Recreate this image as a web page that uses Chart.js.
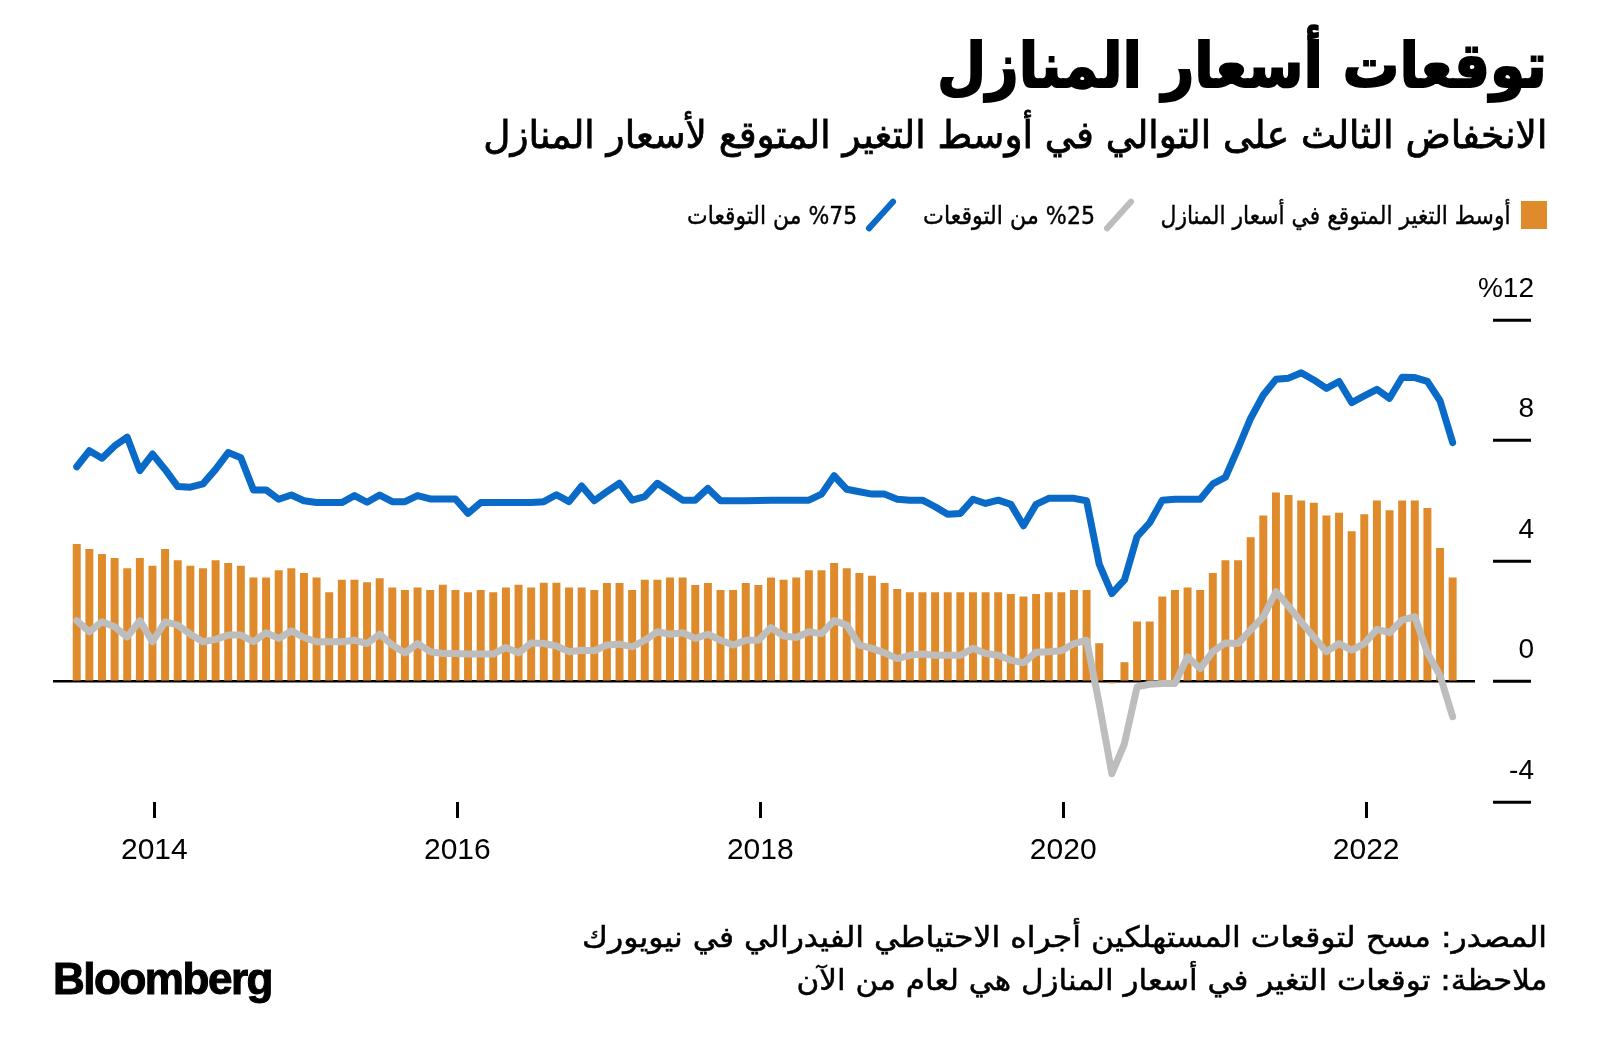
<!DOCTYPE html>
<html lang="ar">
<head>
<meta charset="utf-8">
<title>توقعات أسعار المنازل</title>
<script src="https://cdn.jsdelivr.net/npm/chart.js@4.4.0/dist/chart.umd.min.js"></script>
<style>
  html, body { margin:0; padding:0; background:#fff; }
  body { width:1600px; height:1060px; position:relative; overflow:hidden;
         font-family:"DejaVu Sans", "Noto Sans", sans-serif; color:#000; }
  #chart-wrap { position:absolute; left:0; top:0; width:1600px; height:1060px; }
  .txt { position:absolute; direction:rtl; white-space:nowrap; line-height:1;
         transform-origin:100% 50%; }
  #title { right:53px; top:35px; font-size:62px; font-weight:bold; -webkit-text-stroke:1.8px #000; }
  #subtitle { right:53px; top:116px; font-size:38px; -webkit-text-stroke:0.8px #000; }
  .leg { top:203px; font-size:25px; -webkit-text-stroke:0.4px #000; }
  #src1 { right:53px; top:923px; font-size:29px; -webkit-text-stroke:0.5px #000; }
  #src2 { right:53px; top:966px; font-size:29px; -webkit-text-stroke:0.5px #000; }
  .swatch { position:absolute; left:1521px; top:201px; width:26px; height:28px; background:#df8b2b; }
  .slash { position:absolute; width:6px; height:42px; border-radius:3px; transform:rotate(42deg); }
  #logo { position:absolute; left:53px; top:957px; font-family:"Liberation Sans", Arial, sans-serif;
          font-weight:bold; font-size:44px; letter-spacing:-1.5px; line-height:1;
          -webkit-text-stroke:1px #000; transform-origin:0 50%; white-space:nowrap; }
</style>
</head>
<body>
<div id="chart-wrap"><canvas id="house-chart" width="1600" height="1060"></canvas></div>

<div id="title" class="txt" data-w="610">توقعات أسعار المنازل</div>
<div id="subtitle" class="txt" data-w="1064">الانخفاض الثالث على التوالي في أوسط التغير المتوقع لأسعار المنازل</div>

<div class="swatch"></div>
<div class="txt leg" style="right:89px" data-w="350">أوسط التغير المتوقع في أسعار المنازل</div>
<div class="slash" style="left:1116px; top:194px; background:#bdbdbd"></div>
<div class="txt leg" style="right:505px" data-w="172">%25 من التوقعات</div>
<div class="slash" style="left:878px; top:194px; background:#0a6ac8"></div>
<div class="txt leg" style="right:743px" data-w="170">%75 من التوقعات</div>

<div id="src1" class="txt" data-w="965">المصدر: مسح لتوقعات المستهلكين أجراه الاحتياطي الفيدرالي في نيويورك</div>
<div id="src2" class="txt" data-w="751">ملاحظة: توقعات التغير في أسعار المنازل هي لعام من الآن</div>
<div id="logo" data-w="219">Bloomberg</div>

<script>
(function(){
  // first survey month: June 2013, monthly through July 2022
  const START_YEAR = 2013;
  const START_MONTH = 6;

  const yearLabels = [2014, 2016, 2018, 2020, 2022];
  const yTicks = [-4, 0, 4, 8, 12];

  // median expected home price change (bars)
  const medianChange = [
    4.55, 4.39, 4.22, 4.09, 3.75, 4.09, 3.83, 4.39, 4.01, 3.83,
    3.75, 4.01, 3.92, 3.83, 3.44, 3.44, 3.68, 3.75, 3.59, 3.44,
    2.95, 3.37, 3.37, 3.28, 3.42, 3.11, 3.03, 3.11, 3.03, 3.2,
    3.03, 2.95, 3.03, 2.95, 3.11, 3.2, 3.11, 3.27, 3.27, 3.11,
    3.11, 3.03, 3.26, 3.26, 3.03, 3.37, 3.37, 3.44, 3.44, 3.19,
    3.26, 3.03, 3.03, 3.26, 3.19, 3.44, 3.37, 3.44, 3.68, 3.68,
    3.92, 3.75, 3.59, 3.5, 3.26, 3.06, 2.95, 2.95, 2.95, 2.95,
    2.95, 2.95, 2.95, 2.95, 2.89, 2.81, 2.89, 2.95, 2.95, 3.03,
    3.03, 1.26, -0.05, 0.63, 1.98, 1.98, 2.81, 3.03, 3.11, 3.03,
    3.59, 4.01, 4.01, 4.78, 5.5, 6.26, 6.18, 6.0, 5.92, 5.5,
    5.59, 4.98, 5.54, 6.0, 5.67, 6.0, 6.0, 5.75, 4.42, 3.44
  ];

  // 25th percentile of expectations (grey line)
  const p25 = [
    2.02, 1.65, 1.98, 1.82, 1.48, 2.02, 1.32, 1.98, 1.87, 1.57,
    1.32, 1.4, 1.54, 1.54, 1.32, 1.62, 1.43, 1.68, 1.46, 1.32,
    1.32, 1.32, 1.37, 1.26, 1.57, 1.21, 0.95, 1.26, 0.99, 0.93,
    0.93, 0.91, 0.91, 0.91, 1.13, 0.95, 1.28, 1.26, 1.18, 0.99,
    1.04, 1.02, 1.21, 1.24, 1.15, 1.37, 1.65, 1.57, 1.62, 1.43,
    1.57, 1.37, 1.21, 1.37, 1.37, 1.79, 1.51, 1.46, 1.65, 1.59,
    2.02, 1.87, 1.21, 1.1, 0.95, 0.76, 0.87, 0.91, 0.87, 0.87,
    0.87, 1.1, 0.93, 0.87, 0.71, 0.62, 0.97, 0.99, 1.02, 1.26,
    1.37, -0.74, -3.06, -2.06, -0.18, -0.09, -0.07, -0.07, 0.82, 0.43,
    0.99, 1.28, 1.26, 1.71, 2.15, 2.98, 2.5, 1.98, 1.48, 0.99,
    1.26, 1.04, 1.26, 1.73, 1.62, 2.04, 2.15, 0.95, 0.2, -1.17
  ];

  // 75th percentile of expectations (blue line)
  const p75 = [
    7.13, 7.66, 7.41, 7.82, 8.11, 7.0, 7.55, 7.04, 6.47, 6.45,
    6.56, 7.04, 7.6, 7.43, 6.36, 6.36, 6.05, 6.19, 6.0, 5.94,
    5.94, 5.94, 6.17, 5.95, 6.19, 5.97, 5.97, 6.17, 6.06, 6.06,
    6.06, 5.58, 5.94, 5.94, 5.94, 5.94, 5.94, 5.97, 6.2, 5.97,
    6.49, 6.0, 6.3, 6.58, 6.02, 6.14, 6.58, 6.3, 6.02, 6.02,
    6.41, 6.0, 6.0, 6.0, 6.01, 6.02, 6.02, 6.02, 6.02, 6.22,
    6.83, 6.38, 6.3, 6.22, 6.22, 6.05, 6.02, 6.02, 5.8, 5.55,
    5.58, 6.05, 5.91, 6.02, 5.88, 5.17, 5.88, 6.08, 6.08, 6.08,
    6.0, 3.9, 2.92, 3.37, 4.81, 5.27, 6.02, 6.05, 6.05, 6.05,
    6.56, 6.78, 7.74, 8.74, 9.51, 10.03, 10.07, 10.25, 10.01, 9.73,
    9.96, 9.26, 9.48, 9.7, 9.4, 10.1, 10.09, 9.96, 9.32, 7.93
  ];

  const ORANGE = '#df8b2b';
  const BLUE = '#0a6ac8';
  const GREY = '#bdbdbd';
  const NUM_FONT = '"Liberation Sans", Arial, sans-serif';

  // bars are dated at month end, so Jan 1 of a year sits just after the December bar
  function yearPos(y){
    return (y - 1 - START_YEAR) * 12 + (12 - START_MONTH) + 0.15;
  }
  const pts = arr => arr.map((v, i) => ({ x: i, y: v }));

  function fitText(){
    document.querySelectorAll('[data-w]').forEach(el => {
      el.style.transform = 'none';
      const w = el.getBoundingClientRect().width;
      const target = +el.dataset.w;
      if(w > 0) el.style.transform = 'scaleX(' + (target / w) + ')';
    });
  }

  function renderChart(){
    const ctx = document.getElementById('house-chart');
    new Chart(ctx, {
      data: {
        datasets: [
          {
            type: 'line', label: '%75 من التوقعات', data: pts(p75),
            borderColor: BLUE, borderWidth: 7, pointRadius: 0, tension: 0,
            borderCapStyle: 'round', borderJoinStyle: 'round', order: 0
          },
          {
            type: 'line', label: '%25 من التوقعات', data: pts(p25),
            borderColor: GREY, borderWidth: 7, pointRadius: 0, tension: 0,
            borderCapStyle: 'round', borderJoinStyle: 'round', order: 1
          },
          {
            type: 'bar', label: 'أوسط التغير المتوقع في أسعار المنازل', data: pts(medianChange),
            backgroundColor: ORANGE, borderWidth: 0, barThickness: 7.3, order: 2
          }
        ]
      },
      options: {
        responsive: false,
        animation: false,
        devicePixelRatio: 1,
        layout: { padding: { top: 320, left: 53, right: 66, bottom: 198 } },
        plugins: { legend: { display: false }, tooltip: { enabled: false } },
        scales: {
          x: {
            type: 'linear', min: -1.88, max: 110.77, offset: false,
            afterBuildTicks: s => { s.ticks = yearLabels.map(y => ({ value: yearPos(y) })); },
            afterFit: s => { s.height = 60; },
            border: { display: false },
            grid: { offset: false, drawOnChartArea: false, drawTicks: true, tickLength: 16, tickWidth: 3, tickColor: '#000' },
            ticks: {
              padding: 15, color: '#000', maxRotation: 0, autoSkip: false,
              font: { family: NUM_FONT, size: 30 },
              callback: v => {
                const y = yearLabels.find(yr => Math.abs(yearPos(yr) - v) < 0.01);
                return y ? String(y) : '';
              }
            }
          },
          y: {
            position: 'right', min: -4, max: 12,
            afterBuildTicks: s => { s.ticks = yTicks.map(v => ({ value: v })); },
            afterFit: s => { s.width = 59; },
            border: { display: false },
            grid: {
              drawOnChartArea: true,
              color: c => (c.tick && c.tick.value === 0) ? '#000' : 'rgba(0,0,0,0)',
              lineWidth: 2.5,
              drawTicks: true, tickLength: 56, tickWidth: 3, tickColor: '#000',
              tickBorderDash: [0, 18, 38, 0]
            },
            ticks: {
              crossAlign: 'far', padding: 0, labelOffset: -31, color: '#000',
              font: { family: NUM_FONT, size: 28 },
              callback: v => v === 12 ? '%12' : String(v)
            }
          }
        }
      }
    });
  }

  document.addEventListener('DOMContentLoaded', () => {
    renderChart();
    fitText();
    if(document.fonts && document.fonts.ready){
      document.fonts.ready.then(fitText);
    }
  });
})();
</script>
</body>
</html>
